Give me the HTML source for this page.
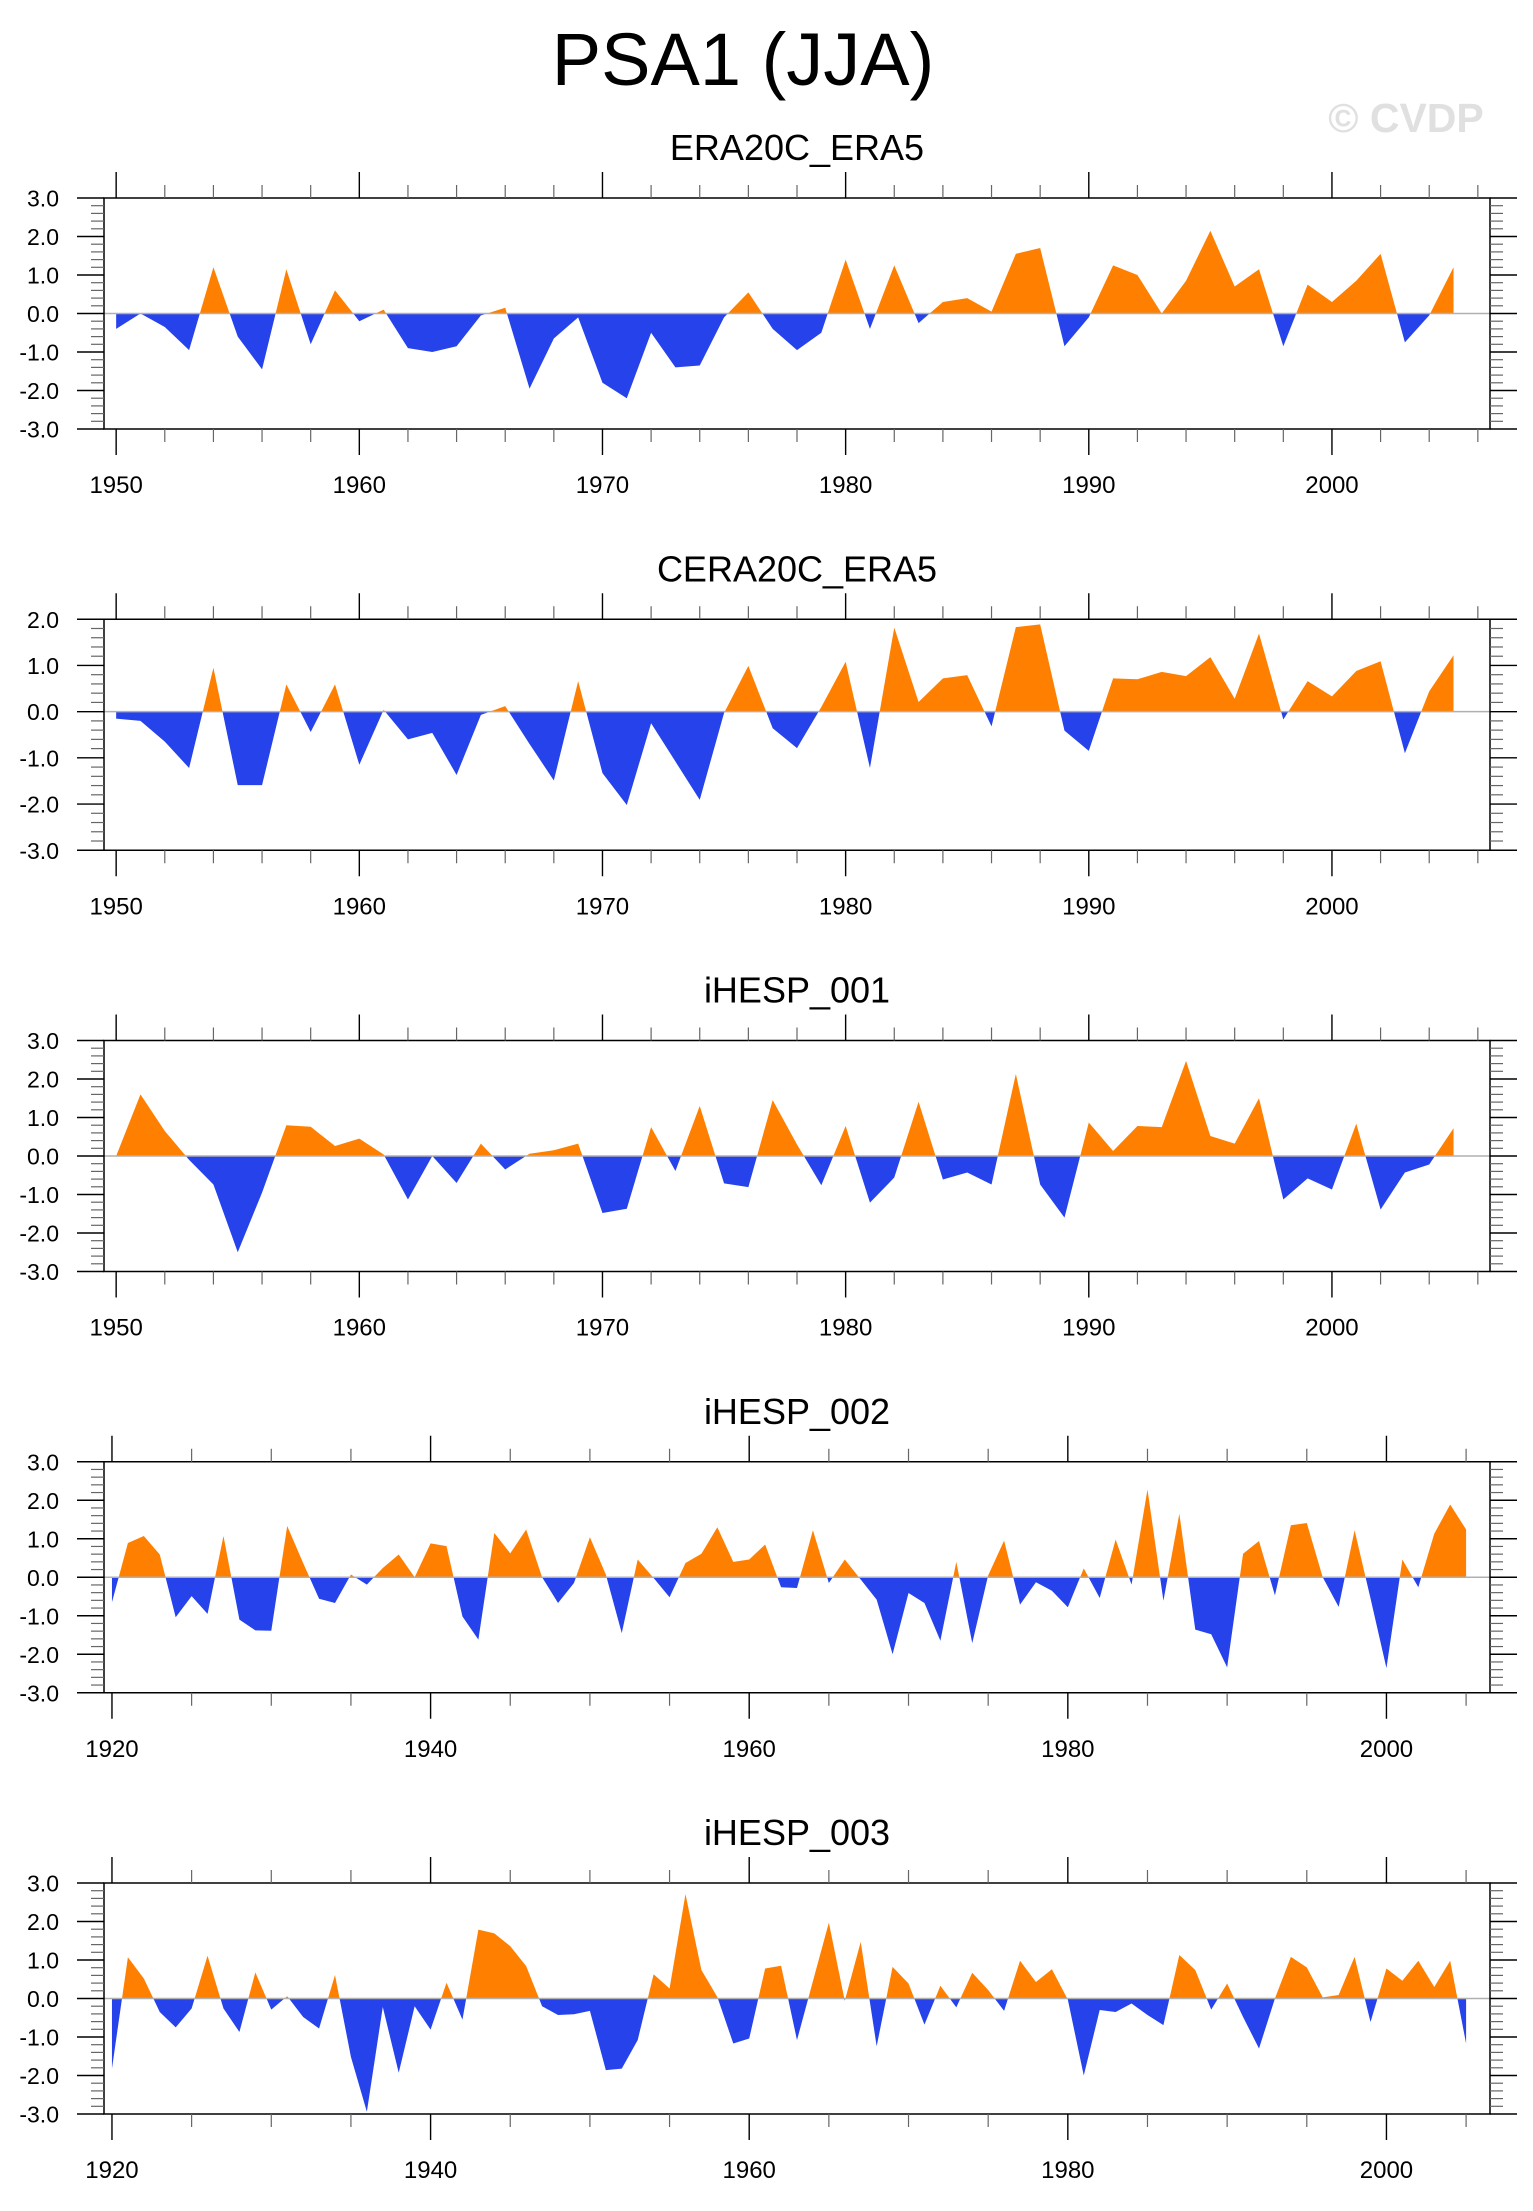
<!DOCTYPE html>
<html><head><meta charset="utf-8"><title>PSA1 (JJA)</title>
<style>
html,body{margin:0;padding:0;background:#fff;}
svg{display:block;font-family:"Liberation Sans",Arial,sans-serif;}
</style></head>
<body>
<svg id="chart" width="1533" height="2211" viewBox="0 0 1533 2211" xmlns="http://www.w3.org/2000/svg">
<rect x="0" y="0" width="1533" height="2211" fill="#fff"/>
<text x="743" y="85" font-size="74" text-anchor="middle" fill="#000">PSA1 (JJA)</text>
<text x="1406" y="132" font-size="41" font-weight="bold" text-anchor="middle" fill="#e0e0e0">© CVDP</text>
</svg>
<script>
const titles = ["ERA20C_ERA5","CERA20C_ERA5","iHESP_001","iHESP_002","iHESP_003"];
const startYears = [1950,1950,1950,1920,1920];
const yMins = [-3,-3,-3,-3,-3];
const yMaxs = [3,2,3,3,3];
const era20c = [-0.4,0.0,-0.35,-0.95,1.2,-0.6,-1.45,1.15,-0.8,0.6,-0.2,0.1,-0.9,-1.0,-0.85,-0.05,0.15,-1.95,-0.65,-0.1,-1.8,-2.2,-0.5,-1.4,-1.35,-0.1,0.55,-0.4,-0.95,-0.5,1.4,-0.4,1.25,-0.25,0.3,0.4,0.05,1.55,1.7,-0.85,-0.1,1.25,1.0,0.0,0.85,2.15,0.7,1.15,-0.85,0.75,0.3,0.85,1.55,-0.75,-0.05,1.2];
const cera20c = [-0.15,-0.2,-0.65,-1.22,0.95,-1.59,-1.59,0.59,-0.44,0.59,-1.15,0.04,-0.6,-0.46,-1.37,-0.07,0.12,-0.7,-1.49,0.66,-1.33,-2.02,-0.25,-1.08,-1.91,-0.03,0.99,-0.36,-0.79,0.1,1.08,-1.22,1.82,0.21,0.72,0.79,-0.32,1.83,1.89,-0.41,-0.85,0.72,0.7,0.86,0.77,1.18,0.28,1.69,-0.17,0.66,0.33,0.88,1.09,-0.9,0.44,1.22];
const ihesp001 = [0.0,1.6,0.65,-0.1,-0.74,-2.5,-0.95,0.8,0.76,0.26,0.45,0.04,-1.13,0.0,-0.7,0.32,-0.35,0.06,0.15,0.32,-1.48,-1.37,0.75,-0.39,1.3,-0.71,-0.81,1.45,0.3,-0.76,0.78,-1.21,-0.56,1.41,-0.61,-0.43,-0.74,2.13,-0.74,-1.6,0.87,0.13,0.78,0.75,2.47,0.52,0.32,1.5,-1.13,-0.58,-0.87,0.84,-1.39,-0.43,-0.22,0.72];
const ihesp002 = [-0.65,0.89,1.07,0.59,-1.04,-0.49,-0.95,1.07,-1.1,-1.38,-1.39,1.33,0.37,-0.56,-0.67,0.07,-0.19,0.24,0.59,0.0,0.88,0.81,-1.02,-1.62,1.15,0.62,1.24,0.0,-0.67,-0.15,1.04,0.07,-1.45,0.46,-0.02,-0.52,0.37,0.61,1.3,0.4,0.46,0.85,-0.26,-0.28,1.22,-0.15,0.46,-0.06,-0.58,-2.0,-0.41,-0.67,-1.65,0.4,-1.71,0.05,0.95,-0.71,-0.13,-0.35,-0.78,0.23,-0.54,0.98,-0.19,2.28,-0.61,1.65,-1.36,-1.48,-2.34,0.61,0.94,-0.47,1.35,1.41,0.0,-0.77,1.22,-0.55,-2.36,0.46,-0.26,1.13,1.89,1.24];
const ihesp003 = [-1.82,1.07,0.52,-0.35,-0.75,-0.26,1.11,-0.26,-0.87,0.68,-0.29,0.06,-0.48,-0.78,0.61,-1.52,-2.94,-0.22,-1.93,-0.2,-0.81,0.41,-0.55,1.79,1.69,1.36,0.84,-0.2,-0.43,-0.41,-0.32,-1.86,-1.82,-1.08,0.63,0.26,2.71,0.74,0.04,-1.17,-1.04,0.78,0.85,-1.08,0.45,1.97,-0.06,1.47,-1.24,0.82,0.39,-0.68,0.33,-0.23,0.67,0.22,-0.32,0.98,0.43,0.76,-0.03,-2.0,-0.3,-0.35,-0.13,-0.43,-0.69,1.13,0.74,-0.29,0.39,-0.48,-1.3,0.0,1.08,0.81,0.03,0.09,1.08,-0.61,0.78,0.46,0.98,0.3,0.98,-1.17];
const seriesList = [era20c,cera20c,ihesp001,ihesp002,ihesp003];
const xMajorLabels = [[1950,1960,1970,1980,1990,2000],[1950,1960,1970,1980,1990,2000],[1950,1960,1970,1980,1990,2000],[1920,1940,1960,1980,2000],[1920,1940,1960,1980,2000]];

const NS = "http://www.w3.org/2000/svg";
const svg = document.getElementById("chart");
function mk(tag, attrs, parent){
  const e = document.createElementNS(NS, tag);
  for (const k in attrs) e.setAttribute(k, attrs[k]);
  (parent||svg).appendChild(e);
  return e;
}
const L = 104, R = 1490, H = 231;
for (let p = 0; p < 5; p++){
  const top = 198 + p*421.25, bot = top + H;
  const vals = seriesList[p], y0 = startYears[p];
  const n = vals.length;
  const xmin = y0 - 0.5, xmax = y0 + n + 0.5;
  const X = v => L + (v - xmin) / (xmax - xmin) * (R - L);
  const Y = v => bot - (v - yMins[p]) / (yMaxs[p] - yMins[p]) * H;
  const g = mk("g", {});
  
  
  const t = mk("text", {x: (L+R)/2, y: top - 38, "font-size": 36, "text-anchor": "middle", fill: "#000"}, g);
  t.textContent = titles[p];
  
  
  const zy = Y(0);
  const cidA = "ca" + p, cidB = "cb" + p;
  const defs = mk("defs", {}, g);
  const ca = mk("clipPath", {id: cidA}, defs);
  mk("rect", {x: L, y: top, width: R-L, height: zy-top}, ca);
  const cb = mk("clipPath", {id: cidB}, defs);
  mk("rect", {x: L, y: zy, width: R-L, height: bot-zy}, cb);
  let pts = X(y0) + "," + zy + " ";
  for (let i = 0; i < n; i++) pts += X(y0+i) + "," + Y(vals[i]) + " ";
  pts += X(y0+n-1) + "," + zy;
  const pa = mk("polygon", {points: pts, fill: "#ff8000", "clip-path": "url(#"+cidA+")"}, g);
  
  
  const pb = mk("polygon", {points: pts, fill: "#2642eb", "clip-path": "url(#"+cidB+")"}, g);
  
  
  const zl = mk("line", {x1: L, x2: R, y1: zy, y2: zy, stroke: "#b0b0b0", "stroke-width": 1.5}, g);
  
  
  const box = mk("rect", {x: L, y: top, width: R-L, height: H, fill: "none", stroke: "#000", "stroke-width": 1.5}, g);
  
  
  const steps = Math.round((yMaxs[p]-yMins[p])/0.2);
  for (let k = 0; k <= steps; k++){
    const v = yMins[p] + k*0.2, yy = Y(v);
    const major = k % 5 === 0;
    const len = major ? 27 : 13;
    mk("line", {x1: L-len, x2: L, y1: yy, y2: yy, stroke: major?"#000":"#666", "stroke-width": major?1.4:1.2}, g);
    mk("line", {x1: R, x2: R+len, y1: yy, y2: yy, stroke: major?"#000":"#666", "stroke-width": major?1.4:1.2}, g);
    if (major){
      const lb = mk("text", {x: 59, y: yy + 8.5, "font-size": 23, "text-anchor": "end", fill: "#000"}, g);
      lb.textContent = v.toFixed(1);
      
      
    }
  }
  const minorStep = y0 === 1950 ? 2 : 5;
  const majorStep = y0 === 1950 ? 10 : 20;
  for (let yr = y0; yr <= xmax; yr += minorStep){
    const xx = X(yr);
    const major = (yr - y0) % majorStep === 0;
    const len = major ? 26 : 13;
    mk("line", {x1: xx, x2: xx, y1: top-len, y2: top, stroke: major?"#000":"#666", "stroke-width": major?1.4:1.2}, g);
    mk("line", {x1: xx, x2: xx, y1: bot, y2: bot+len, stroke: major?"#000":"#666", "stroke-width": major?1.4:1.2}, g);
  }
  xMajorLabels[p].forEach(yr => {
    const lb = mk("text", {x: X(yr), y: bot + 64, "font-size": 24, "text-anchor": "middle", fill: "#000"}, g);
    lb.textContent = yr;
    
    
  });
}
</script>
</body></html>
